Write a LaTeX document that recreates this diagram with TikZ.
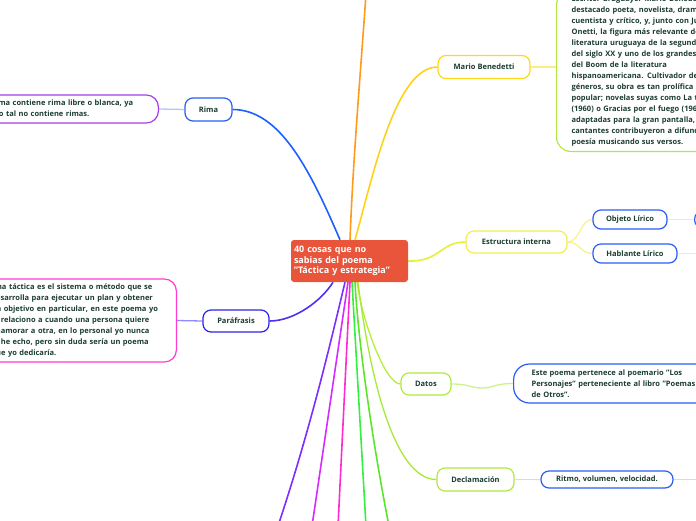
\documentclass[tikz,border=0pt]{standalone}
\usepackage{fontspec}
\setmainfont{Open Sans}
\usetikzlibrary{backgrounds}
\newcommand{\dq}{\symbol{34}}
\definecolor{txt}{HTML}{1B3D2F}
\definecolor{cfill}{HTML}{E9553B}
\definecolor{cblue}{HTML}{2A5EF2}
\definecolor{cviolet}{HTML}{2E22E6}
\definecolor{cpurple}{HTML}{A63FE6}
\definecolor{cmagenta}{HTML}{FF3CD2}
\definecolor{cyellow}{HTML}{FFD81A}
\definecolor{cpaleyel}{HTML}{F2EE50}
\definecolor{clime}{HTML}{B2E840}
\definecolor{lblue}{HTML}{AFC8FF}
\definecolor{lviolet}{HTML}{8F8AFF}
\definecolor{lyellow}{HTML}{FFEB80}
\definecolor{lpaleyel}{HTML}{F6F290}
\definecolor{llime}{HTML}{CDF28A}
\definecolor{kblue}{HTML}{1D5FFF}
\definecolor{korange}{HTML}{FF9A1A}
\definecolor{kyellow}{HTML}{FFD21A}
\definecolor{kestr}{HTML}{E4F03A}
\definecolor{kbviolet}{HTML}{4A33F0}
\definecolor{kviolet}{HTML}{7B2FFF}
\definecolor{kpurple}{HTML}{D42BFF}
\definecolor{kmagenta}{HTML}{FF2BD0}
\definecolor{kgreen}{HTML}{33F040}
\definecolor{kgreen2}{HTML}{5CE62A}
\definecolor{kdatos}{HTML}{B6EE3A}
\definecolor{kdecl}{HTML}{A8E838}
\tikzset{
  topic/.style={draw, line width=1.2pt, rounded corners=8pt, fill=white,
    font=\fontsize{7.5pt}{11pt}\selectfont\bfseries, text=txt, inner sep=0pt, align=center},
  notebox/.style={draw, line width=1.2pt, rounded corners=12pt, fill=white,
    font=\fontsize{7.5pt}{11pt}\selectfont\bfseries, text=txt, align=left},
  centre/.style={fill=cfill, rounded corners=3pt, text=white, align=left,
    font=\fontsize{9pt}{10.5pt}\selectfont\bfseries, inner xsep=3pt, inner ysep=0pt,
    text width=111pt, minimum height=42pt},
  mainconn/.style={line width=1.6pt},
  subconn/.style={line width=1.3pt},
}
\begin{document}
\begin{tikzpicture}[x=1pt,y=-1pt]
\useasboundingbox (0,0) rectangle (696,520);

% ---- nodes ----
\node[centre] (c) at (349.5,261) {40 cosas que no\\sabias del poema\\\dq Táctica y estrategia\dq};

\node[topic, draw=cblue, minimum width=47pt, minimum height=23pt] (rima) at (208.5,109.5) {Rima};
\node[notebox, draw=cpurple, anchor=east, text width=180pt, inner xsep=12pt, minimum height=28pt, inner ysep=3pt] (rimatxt) at (159,109)
  {Este poema contiene rima libre o blanca, ya\\que como tal no contiene rimas.};

\node[topic, draw=cviolet, minimum width=66pt, minimum height=22pt] (para) at (236,321) {Paráfrasis};
\node[notebox, draw=cmagenta, anchor=east, text width=173pt, inner xsep=12pt, minimum height=83pt, inner ysep=3pt] (paratxt) at (177,320.5)
  {Una táctica es el sistema o método que se\\desarrolla para ejecutar un plan y obtener\\un objetivo en particular, en este poema yo\\lo relaciono a cuando una persona quiere\\enamorar a otra, en lo personal yo nunca\\lo he echo, pero sin duda sería un poema\\que yo dedicaría.};

\node[topic, draw=cyellow, minimum width=92pt, minimum height=23pt] (mario) at (484,67) {Mario Benedetti};
\node[notebox, draw=clime, anchor=south west, text width=200pt, inner xsep=15pt, inner ysep=5pt, rounded corners=14pt] (mariotxt) at (556,152)
  {Escritor uruguayo. Mario Benedetti fue un\\destacado poeta, novelista, dramaturgo,\\cuentista y crítico, y, junto con Juan Carlos\\Onetti, la figura más relevante de la\\literatura uruguaya de la segunda mitad\\del siglo XX y uno de los grandes autores\\del Boom de la literatura\\hispanoamericana. Cultivador de todos los\\géneros, su obra es tan prolífica como\\popular; novelas suyas como La tregua\\(1960) o Gracias por el fuego (1965) fueron\\adaptadas para la gran pantalla, y muchos\\cantantes contribuyeron a difundir su\\poesía musicando sus versos.};

\node[topic, draw=cpaleyel, minimum width=101pt, minimum height=22pt] (estr) at (516.5,242) {Estructura interna};
\node[topic, draw=cblue, minimum width=74pt, minimum height=19pt] (obj) at (630,219.5) {Objeto Lírico};
\node[topic, draw=cblue, minimum width=84pt, minimum height=19pt] (habl) at (635,253.5) {Hablante Lírico};
\node[topic, draw=cblue, minimum width=60pt, minimum height=17pt, anchor=west] (objc) at (694,219.5) {};

\node[topic, draw=clime, minimum width=50pt, minimum height=22pt] (datos) at (426,384) {Datos};
\node[notebox, draw=cblue, anchor=west, text width=200pt, inner xsep=18pt, minimum height=39pt, inner ysep=2pt, rounded corners=16pt] (datostxt) at (513,383.5)
  {Este poema pertenece al poemario \dq Los\\Personajes\dq\ perteneciente al libro \dq Poemas\\de Otros\dq.};

\node[topic, draw=clime, minimum width=77pt, minimum height=23pt] (decl) at (475.5,479.5) {Declamación};
\node[topic, draw=cblue, minimum width=132pt, minimum height=17pt] (ritmo) at (607,479.5) {Ritmo, volumen, velocidad.};

% free ends off the page
\coordinate (offtop) at (366,-6);
\coordinate (offv) at (278,526);
\coordinate (offp) at (312,526);
\coordinate (offm) at (338,526);
\coordinate (offg) at (366,526);
\coordinate (offg2) at (389,526);
\coordinate (offhabl) at (710,253.5);
\coordinate (offritmo) at (710,479.5);

\begin{scope}[on background layer]
% ---- connectors from the centre ----
\draw[mainconn, kblue] ([xshift=-9.5pt]c.north) .. controls (310,170) and (280,109.5) .. (rima.east);
\draw[mainconn, korange] ([xshift=0.5pt]c.north) .. controls (353,160) and (360,80) .. (offtop);
\draw[mainconn, kyellow] ([xshift=5.5pt]c.north) .. controls (372,180) and (395,67) .. (mario.west);
\draw[mainconn, kestr] (c.east) .. controls (440,262) and (440,242) .. (estr.west);
\draw[mainconn, kbviolet] ([xshift=-16.5pt]c.south) .. controls (322,300) and (295,321) .. (para.east);
\draw[mainconn, kviolet] ([xshift=-4.5pt]c.south) .. controls (330,345) and (310,430) .. (offv);
\draw[mainconn, kpurple] ([xshift=-1.5pt]c.south) -- (offp);
\draw[mainconn, kmagenta] ([xshift=0.5pt]c.south) -- (offm);
\draw[mainconn, kgreen] ([xshift=2.5pt]c.south) -- (offg);
\draw[mainconn, kgreen2] ([xshift=5.5pt]c.south) .. controls (358,340) and (372,440) .. (offg2);
\draw[subconn, kdatos] ([xshift=7.5pt]c.south) .. controls (362,320) and (385,384) .. (datos.west);
\draw[subconn, kdecl] ([xshift=8.5pt]c.south) .. controls (370,380) and (395,479.5) .. (decl.west);

% ---- connectors between topics ----
\draw[subconn, lblue] (rima.west) -- (rimatxt.east);
\draw[subconn, lviolet] (para.west) -- (paratxt.east);
\draw[subconn, lyellow] (mario.east) -- (mario.east -| mariotxt.west);
\draw[subconn, lpaleyel] (estr.east) .. controls (580,242) and (580,219.5) .. (obj.west);
\draw[subconn, lpaleyel] (estr.east) .. controls (580,242) and (580,253.5) .. (habl.west);
\draw[subconn, lpaleyel] (obj.east) -- (objc.west);
\draw[subconn, lpaleyel] (habl.east) -- (offhabl);
\draw[subconn, llime] (datos.east) .. controls (470,384) and (470,388) .. (482,388) .. controls (494,388) and (494,383.5) .. (datostxt.west);
\draw[subconn, llime] (decl.east) -- (ritmo.west);
\draw[subconn, llime] (ritmo.east) -- (offritmo);
\end{scope}
\end{tikzpicture}
\end{document}
